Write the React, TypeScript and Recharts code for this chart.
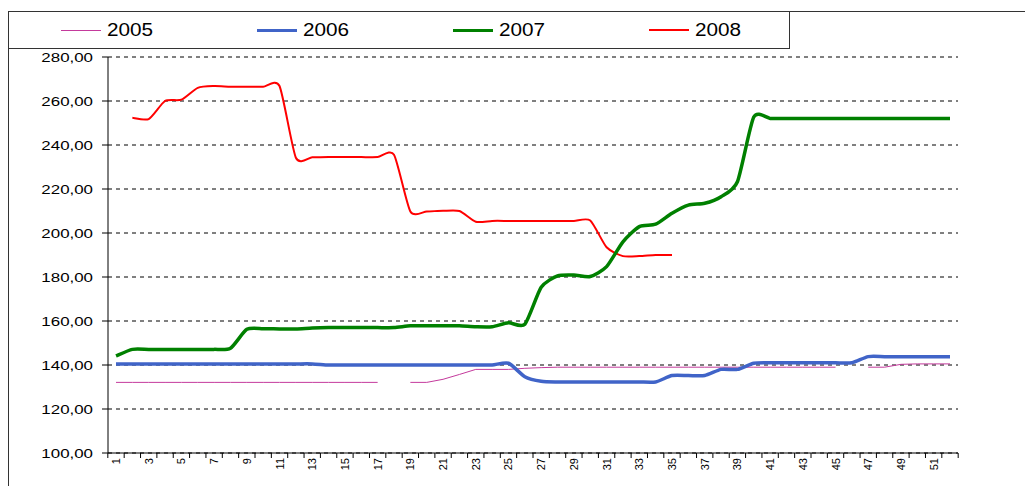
import React from "react";
import { LineChart, Line, XAxis, YAxis, CartesianGrid, Legend } from "recharts";

// week numbers on the category axis
const weeks = [
  "1", "2", "3", "4", "5", "6", "7", "8", "9", "10", "11", "12", "13",
  "14", "15", "16", "17", "18", "19", "20", "21", "22", "23", "24", "25", "26",
  "27", "28", "29", "30", "31", "32", "33", "34", "35", "36", "37", "38", "39",
  "40", "41", "42", "43", "44", "45", "46", "47", "48", "49", "50", "51", "52",
];

const yTicks = [100, 120, 140, 160, 180, 200, 220, 240, 260, 280];

const s2005 = [
  132.1, 132.1, 132.1, 132.1, 132.1, 132.1, 132.1, 132.1, 132.1, 132.1, 132.1, 132.1, 132.1,
  132.1, 132.1, 132.1, 132.1, null, 132.1, 132.1, 133.5, 135.7, 138.0, 138.0, 138.0, 138.5,
  138.8, 139.0, 139.0, 139.0, 139.0, 139.0, 139.0, 139.0, 139.0, 139.0, 139.0, 139.0, 139.0,
  139.0, 139.0, 139.0, 139.0, 139.0, 139.0, null, 139.0, 139.0, 140.3, 140.5, 140.5, 140.5,
];

const s2006 = [
  140.5, 140.5, 140.5, 140.5, 140.5, 140.5, 140.5, 140.5, 140.5, 140.5, 140.5, 140.5, 140.5,
  140.0, 140.0, 140.0, 140.0, 140.0, 140.0, 140.0, 140.0, 140.0, 140.0, 140.0, 140.8, 134.7,
  132.6, 132.3, 132.3, 132.3, 132.3, 132.3, 132.3, 132.3, 135.2, 135.2, 135.2, 138.0, 138.0,
  140.8, 141.0, 141.0, 141.0, 141.0, 141.0, 141.0, 143.8, 143.8, 143.8, 143.8, 143.8, 143.8,
];

const s2007 = [
  144.1, 147.1, 147.1, 147.1, 147.1, 147.1, 147.1, 147.6, 156.2, 156.5, 156.4, 156.4, 156.8,
  157.0, 157.0, 157.0, 157.0, 157.0, 157.8, 157.8, 157.8, 157.8, 157.4, 157.4, 159.2, 158.5,
  175.3, 180.5, 180.9, 180.2, 184.7, 196.0, 202.9, 204.0, 209.0, 212.7, 213.5, 216.5, 223.3,
  252.7, 252.1, 252.1, 252.1, 252.1, 252.1, 252.1, 252.1, 252.1, 252.1, 252.1, 252.1, 252.1,
];

const s2008 = [
  null, 252.4, 251.8, 260.0, 260.6, 266.0, 266.8, 266.5, 266.5, 266.5, 266.8, 234.2, 234.4,
  234.5, 234.5, 234.5, 234.5, 235.6, 209.8, 209.8, 210.1, 210.0, 205.1, 205.5, 205.5, 205.5,
  205.5, 205.5, 205.5, 205.7, 193.5, 189.5, 189.5, 190.0, 190.0, null, null, null, null,
  null, null, null, null, null, null, null, null, null, null, null, null, null,
];

const data = weeks.map((week, i) => ({
  week,
  y2005: s2005[i],
  y2006: s2006[i],
  y2007: s2007[i],
  y2008: s2008[i],
}));

const CHART_W = 1025;
const CHART_H = 478;
const PLOT_LEFT = 100;
const PLOT_RIGHT = 950;
const STEP = (PLOT_RIGHT - PLOT_LEFT) / weeks.length;
const FONT = "'Liberation Sans', Arial, sans-serif";
const TENSION = 1 / 9;

// Excel-style smoothed line through every point, with a softer tangent
function smoothCurve(context: any) {
  let pts: [number, number][] = [];
  return {
    areaStart() {},
    areaEnd() {},
    lineStart() {
      pts = [];
    },
    point(x: number, y: number) {
      pts.push([+x, +y]);
    },
    lineEnd() {
      if (!pts.length) return;
      context.moveTo(pts[0][0], pts[0][1]);
      if (pts.length === 1) {
        context.lineTo(pts[0][0], pts[0][1]);
        return;
      }
      for (let i = 0; i < pts.length - 1; i++) {
        const p0 = pts[i - 1] ?? pts[i];
        const p1 = pts[i];
        const p2 = pts[i + 1];
        const p3 = pts[i + 2] ?? p2;
        context.bezierCurveTo(
          p1[0] + (p2[0] - p0[0]) * TENSION,
          p1[1] + (p2[1] - p0[1]) * TENSION,
          p2[0] - (p3[0] - p1[0]) * TENSION,
          p2[1] - (p3[1] - p1[1]) * TENSION,
          p2[0],
          p2[1]
        );
      }
    },
  };
}

function XTick(props: any) {
  const { x, y, payload, index } = props;
  const half = STEP / 2;
  return (
    <g transform={`translate(${x},${y})`}>
      <line x1={-half} y1={0} x2={-half} y2={5} stroke="#000" />
      {index === weeks.length - 1 && <line x1={half} y1={0} x2={half} y2={5} stroke="#000" />}
      {index % 2 === 0 && (
        <text
          transform="rotate(-90)"
          x={-5}
          y={4}
          textAnchor="end"
          fontSize={11}
          fontFamily={FONT}
          fill="#000"
        >
          {payload.value}
        </text>
      )}
    </g>
  );
}

function YTick(props: any) {
  const { x, y, payload } = props;
  return (
    <g transform={`translate(${x},${y}) scale(1.3,1)`}>
      <text x={0} y={0} dy="0.35em" textAnchor="end" fontSize={13} fontFamily={FONT} fill="#000">
        {payload.value.toFixed(2).replace(".", ",")}
      </text>
    </g>
  );
}

function LegendBox(props: any) {
  const items = [...(props.payload ?? [])].sort((a: any, b: any) =>
    String(a.value).localeCompare(String(b.value))
  );
  return (
    <div
      style={{
        position: "relative",
        width: 782,
        height: 38,
        boxSizing: "border-box",
        border: "1px solid #333",
        fontFamily: FONT,
        fontSize: 18,
        color: "#000",
      }}
    >
      {items.map((item: any, i: number) => (
        <div
          key={item.value}
          style={{
            position: "absolute",
            left: 52 + i * 196,
            top: 0,
            height: 36,
            display: "flex",
            alignItems: "center",
          }}
        >
          <span
            style={{
              display: "inline-block",
              width: 40,
              height: 0,
              borderTop: `${item.payload?.strokeWidth ?? 1}px solid ${item.color}`,
            }}
          />
          <span
            style={{
              marginLeft: 6,
              display: "inline-block",
              transform: "scaleX(1.15)",
              transformOrigin: "left center",
            }}
          >
            {item.value}
          </span>
        </div>
      ))}
    </div>
  );
}

export default function App() {
  return (
    <div style={{ position: "relative", width: CHART_W, height: CHART_H }}>
      <style>{"html,body{overflow:hidden}"}</style>
      <div
        style={{
          position: "absolute",
          left: 0,
          top: 3,
          right: 0,
          bottom: -10,
          borderLeft: "1px solid #333",
          borderTop: "1px solid #333",
          pointerEvents: "none",
        }}
      />
      <LineChart
        width={CHART_W}
        height={CHART_H}
        data={data}
        margin={{ top: 49, right: CHART_W - PLOT_RIGHT, bottom: 0, left: 0 }}
      >
        <CartesianGrid vertical={false} stroke="#000" strokeDasharray="4 4" />
        <XAxis
          dataKey="week"
          interval={0}
          height={33}
          padding={{ left: 8, right: 8 }}
          tickLine={false}
          tickSize={0}
          tickMargin={0}
          axisLine={{ stroke: "#000" }}
          tick={<XTick />}
        />
        <YAxis
          width={PLOT_LEFT}
          domain={[100, 280]}
          ticks={yTicks}
          tickSize={6}
          tickMargin={9}
          tickLine={{ stroke: "#000" }}
          axisLine={{ stroke: "#000" }}
          tick={<YTick />}
        />
        <Legend
          layout="horizontal"
          verticalAlign="middle"
          align="center"
          wrapperStyle={{ top: 3, left: 0, width: 782, height: 38 }}
          content={<LegendBox />}
        />
        <Line
          name="2005"
          dataKey="y2005"
          type="linear"
          stroke="#C43A9C"
          strokeWidth={1}
          dot={false}
          activeDot={false}
          isAnimationActive={false}
        />
        <Line
          name="2006"
          dataKey="y2006"
          type={smoothCurve as any}
          stroke="#4064C8"
          strokeWidth={3.5}
          dot={false}
          activeDot={false}
          isAnimationActive={false}
        />
        <Line
          name="2008"
          dataKey="y2008"
          type={smoothCurve as any}
          stroke="#FF0000"
          strokeWidth={2}
          dot={false}
          activeDot={false}
          isAnimationActive={false}
        />
        <Line
          name="2007"
          dataKey="y2007"
          type={smoothCurve as any}
          stroke="#008000"
          strokeWidth={3.5}
          dot={false}
          activeDot={false}
          isAnimationActive={false}
        />
      </LineChart>
    </div>
  );
}
